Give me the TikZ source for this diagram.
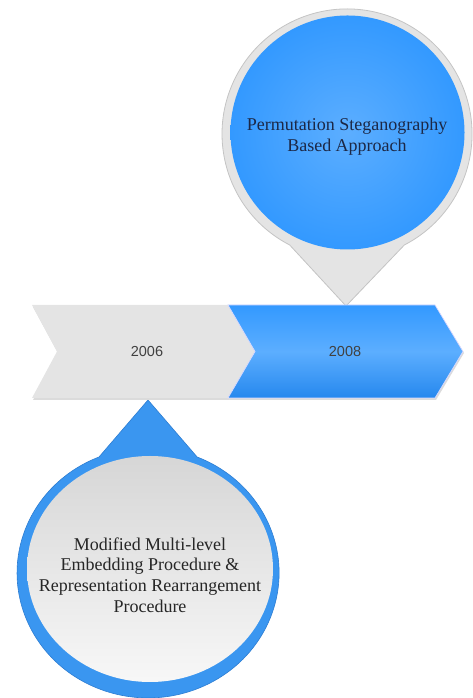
\documentclass[tikz,border=0pt]{standalone}
\usepackage{fontspec}
\setmainfont{Liberation Serif}
\newfontfamily\yearfont{Liberation Sans}
\definecolor{skyblue}{RGB}{51,153,255}
\definecolor{skylight}{RGB}{92,174,255}
\definecolor{skydark}{RGB}{38,136,238}
\definecolor{ringblue}{RGB}{58,150,240}
\definecolor{ringedge}{RGB}{45,125,210}
\definecolor{pale}{RGB}{228,228,228}
\definecolor{rim}{RGB}{196,196,196}
\definecolor{navytext}{RGB}{28,40,70}
\definecolor{inktext}{RGB}{38,38,38}
\begin{document}
\begin{tikzpicture}[x=1pt,y=1pt,
  yearlabel/.style={font=\yearfont\fontsize{14.5}{17}\selectfont, text=black!75, inner sep=0pt},
  balloontext/.style={font=\fontsize{18}{20.7}\selectfont, align=center, inner sep=0pt},
  chevshadow/.style={fill=black!14},
]
\useasboundingbox (0,0) rectangle (472,698);

% upper callout: grey rim with a pointer down to the 2008 chevron
\filldraw[fill=pale, draw=rim, line width=0.8pt]
  (346,392) -- (289.7,453) arc[start angle=242.7, end angle=-62.7, radius=125] -- cycle;
\shade[inner color=skylight, outer color=skyblue] (347.5,565.5) circle[radius=117];

% lower callout: blue rim with a pointer up to the 2006 chevron
\filldraw[fill=ringblue, draw=ringedge, line width=0.6pt]
  (148,298) -- (99,241) arc[start angle=112, end angle=428, x radius=131, y radius=125] -- cycle;
\shade[top color=black!16, bottom color=black!3] (150,129) ellipse[x radius=123, y radius=113];

% timeline chevrons with a soft shadow underneath
\fill[chevshadow] (33,391) -- (229,391) -- (256,345) -- (229,298) -- (33,298) -- (58,345) -- cycle;
\fill[chevshadow] (229,391) -- (436,391) -- (464,345) -- (436,298) -- (229,298) -- (256,345) -- cycle;
\fill[pale] (32,393) -- (228,393) -- (255,346.5) -- (228,300) -- (32,300) -- (57,346.5) -- cycle;
\shade[top color=skyblue, bottom color=skydark, middle color=skylight, draw=blue!15!white, line width=0.7pt]
  (228,393) -- (435,393) -- (463,346.5) -- (435,300) -- (228,300) -- (255,346.5) -- cycle;

\node[yearlabel] (y2006) at (147,346.5) {2006};
\node[yearlabel] (y2008) at (345,346.5) {2008};

\node[balloontext, text=navytext] (perm) at (347,561) {Permutation Steganography\\Based Approach};
\node[balloontext, text=inktext] (mmle) at (150,123) {Modified Multi-level\\Embedding Procedure \&\\Representation Rearrangement\\Procedure};
\end{tikzpicture}
\end{document}
